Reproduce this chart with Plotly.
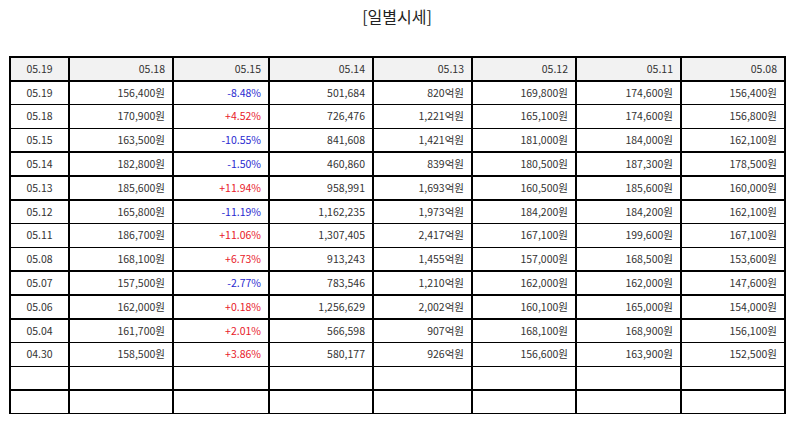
import plotly.graph_objects as go

header_labels = ["05.19", "05.18", "05.15", "05.14", "05.13", "05.12", "05.11", "05.08"]

dates = ["05.19", "05.18", "05.15", "05.14", "05.13", "05.12", "05.11", "05.08",
         "05.07", "05.06", "05.04", "04.30"]
close_prices = [156400, 170900, 163500, 182800, 185600, 165800, 186700, 168100,
                157500, 162000, 161700, 158500]
change_pct = [-8.48, 4.52, -10.55, -1.50, 11.94, -11.19, 11.06, 6.73,
              -2.77, 0.18, 2.01, 3.86]
volumes = [501684, 726476, 841608, 460860, 958991, 1162235, 1307405, 913243,
           783546, 1256629, 566598, 580177]
trade_value_eok = [820, 1221, 1421, 839, 1693, 1973, 2417, 1455, 1210, 2002, 907, 926]
open_prices = [169800, 165100, 181000, 180500, 160500, 184200, 167100, 157000,
               162000, 160100, 168100, 156600]
high_prices = [174600, 174600, 184000, 187300, 185600, 184200, 199600, 168500,
               162000, 165000, 168900, 163900]
low_prices = [156400, 156800, 162100, 178500, 160000, 162100, 167100, 153600,
              147600, 154000, 156100, 152500]
empty_rows = 2

RED = "#e8202a"
BLUE = "#2a2ad0"
TEXT = "#333333"

def won(v):
    return f"{v:,}원"

pad = [""] * empty_rows
col_date = dates + pad
col_close = [won(v) for v in close_prices] + pad
col_chg = [f"{v:+.2f}%" for v in change_pct] + pad
col_vol = [f"{v:,}" for v in volumes] + pad
col_val = [f"{v:,}억원" for v in trade_value_eok] + pad
col_open = [won(v) for v in open_prices] + pad
col_high = [won(v) for v in high_prices] + pad
col_low = [won(v) for v in low_prices] + pad

n = len(col_date)
chg_colors = [RED if v > 0 else BLUE for v in change_pct] + [TEXT] * empty_rows
font_colors = [[TEXT] * n, [TEXT] * n, chg_colors] + [[TEXT] * n] * 5

fig = go.Figure(go.Table(
    columnwidth=[59, 104, 96, 104, 99, 104, 105, 104],
    header=dict(
        values=header_labels,
        fill_color="#f2f2f2",
        line=dict(color="black", width=1.5),
        align=["center"] + ["right"] * 7,
        font=dict(family="Noto Sans CJK KR", size=10.5, color=TEXT),
        height=23.8,
    ),
    cells=dict(
        values=[col_date, col_close, col_chg, col_vol, col_val, col_open, col_high, col_low],
        fill_color="white",
        line=dict(color="black", width=1.5),
        align=["center"] + ["right"] * 7,
        font=dict(family="Noto Sans CJK KR", size=10.5, color=font_colors),
        height=23.8,
    ),
))

fig.update_layout(
    width=794, height=425,
    margin=dict(l=10, r=9, t=57, b=11),
    paper_bgcolor="white",
    title=dict(text="[일별시세]", x=0.5, xanchor="center", y=1 - 17 / 425, yanchor="middle",
               font=dict(family="Noto Sans CJK KR", size=16, color="#222222")),
)

fig.write_html("out.html", config={"displayModeBar": False},
               post_script="document.body.style.margin='0';document.body.style.overflow='hidden';")
